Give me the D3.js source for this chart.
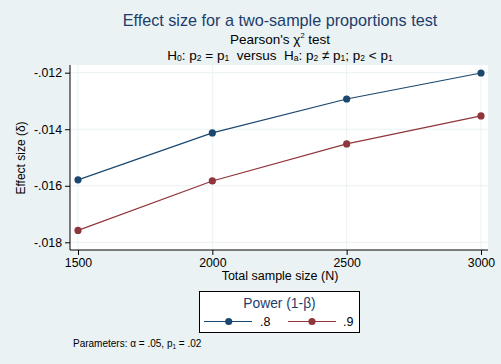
<!DOCTYPE html>
<html><head><meta charset="utf-8">
<script src="https://cdn.jsdelivr.net/npm/d3@7"></script>
<style>body{margin:0;background:#eaf2f3;} svg{display:block;font-family:"Liberation Sans",Arial,sans-serif;}</style>
</head><body>
<svg id="c" width="501" height="364"></svg>
<script>
const sampleSizes = [1500, 2000, 2500, 3000];
const power80 = [-0.01579, -0.01413, -0.01293, -0.01201];
const power90 = [-0.01758, -0.01583, -0.01452, -0.01353];
const seriesNames = [".8", ".9"];
const seriesColors = ["#1a476f", "#90353b"];
const yTicks = [-0.018, -0.016, -0.014, -0.012];
const xTicks = [1500, 2000, 2500, 3000];

const svg = d3.select("#c");
svg.append("rect").attr("width",501).attr("height",364).attr("fill","#eaf2f3");
const L=70, R=488, T=65, B=250;
svg.append("rect").attr("x",L).attr("y",T).attr("width",R-L).attr("height",B-T).attr("fill","#fff");

const x = d3.scaleLinear().domain([1500,3000]).range([78,481]);
const y = d3.scaleLinear().domain([-0.018,-0.012]).range([242.3,72.7]);

// grid
svg.append("g").selectAll("line").data(yTicks).join("line")
  .attr("x1",L).attr("x2",R).attr("y1",d=>y(d)).attr("y2",d=>y(d))
  .attr("stroke","#eaf2f3").attr("stroke-width",1);
svg.append("g").selectAll("line").data(xTicks).join("line")
  .attr("y1",T).attr("y2",B).attr("x1",d=>x(d)).attr("x2",d=>x(d))
  .attr("stroke","#eaf2f3").attr("stroke-width",1);

const fmt = d => "-" + d3.format(".3f")(Math.abs(d)).replace("0.",".");
const yAxis = svg.append("g").attr("transform",`translate(${L},0)`)
  .call(d3.axisLeft(y).tickValues(yTicks).tickSize(5).tickPadding(3).tickFormat(fmt));
yAxis.select(".domain").attr("d",`M0,${T}V${B}`);
const xAxis = svg.append("g").attr("transform",`translate(0,${B})`)
  .call(d3.axisBottom(x).tickValues(xTicks).tickSize(5).tickPadding(3).tickFormat(d3.format("d")));
xAxis.select(".domain").attr("d",`M${L},0H${R}`);
svg.selectAll(".tick text").attr("font-size",12.3).attr("fill","#000").attr("font-family","Liberation Sans, Arial, sans-serif");
svg.selectAll(".domain, .tick line").attr("stroke","#000");

const series = [power80, power90];
const line = d3.line().x((d,i)=>x(sampleSizes[i])).y(d=>y(d));
series.forEach((s,k)=>{
  svg.append("path").datum(s).attr("d",line).attr("fill","none").attr("stroke",seriesColors[k]).attr("stroke-width",1.2);
  svg.append("g").selectAll("circle").data(s).join("circle")
    .attr("cx",(d,i)=>x(sampleSizes[i])).attr("cy",d=>y(d)).attr("r",3.6).attr("fill",seriesColors[k]);
});

// titles
svg.append("text").attr("x",280).attr("y",26).attr("text-anchor","middle").attr("font-size",16.2).attr("fill","#1e3d6b")
  .text("Effect size for a two-sample proportions test");
const st = svg.append("text").attr("x",280).attr("y",44).attr("text-anchor","middle").attr("font-size",13.5).attr("fill","#000");
st.append("tspan").text("Pearson's χ");
st.append("tspan").attr("font-size",7.5).attr("dy",-6.5).text("2");
st.append("tspan").attr("dy",6.5).text(" test");
const h = svg.append("text").attr("x",280).attr("y",59.5).attr("text-anchor","middle").attr("font-size",13.5).attr("fill","#000").attr("xml:space","preserve");
const parts = [["H",""],["0","s"],[": p",""],["2","s"],[" = p",""],["1","s"],["  versus  H",""],["a","s"],[": p",""],["2","s"],[" ≠ p",""],["1","s"],["; p",""],["2","s"],[" < p",""],["1","s"]];
parts.forEach(([t,s],i)=>{
  const ts = h.append("tspan").text(t);
  const prev = i>0 ? parts[i-1] : null;
  let dy = 0;
  if(s==="s") { ts.attr("font-size",8.5); dy = 1.5; }
  else if(prev && prev[1]==="s") dy = -1.5;
  ts.attr("dy",dy);
});

svg.append("text").attr("transform","translate(25,158) rotate(-90)").attr("text-anchor","middle").attr("font-size",12).text("Effect size (δ)");
svg.append("text").attr("x",280).attr("y",280).attr("text-anchor","middle").attr("font-size",12.5).text("Total sample size (N)");

// legend
svg.append("rect").attr("x",199.5).attr("y",291.5).attr("width",160).attr("height",41).attr("fill","#fff").attr("stroke","#000").attr("stroke-width",1);
svg.append("text").attr("x",279.5).attr("y",308).attr("text-anchor","middle").attr("font-size",13.8).attr("fill","#1e3d6b").text("Power (1-β)");
const legX = [[204,252,228.7,260],[288,336,312,343]];
seriesNames.forEach((n,k)=>{
  const [a,b,m,t] = legX[k];
  svg.append("line").attr("x1",a).attr("x2",b).attr("y1",321.5).attr("y2",321.5).attr("stroke",seriesColors[k]).attr("stroke-width",1.2);
  svg.append("circle").attr("cx",m).attr("cy",321.5).attr("r",3.6).attr("fill",seriesColors[k]);
  svg.append("text").attr("x",t).attr("y",326).attr("font-size",12.5).text(n);
});

const pt = svg.append("text").attr("x",73).attr("y",347).attr("font-size",10);
pt.append("tspan").text("Parameters: α = .05, p");
pt.append("tspan").attr("font-size",6.5).attr("dy",2).text("1");
pt.append("tspan").attr("dy",-2).text(" = .02");
</script>
</body></html>
